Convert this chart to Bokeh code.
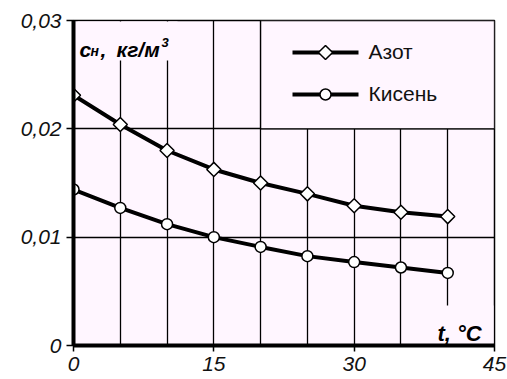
import numpy as np
from bokeh.plotting import figure
from bokeh.models import Range1d, FixedTicker, CustomJSTickFormatter, Label, ColumnDataSource
from bokeh.embed import file_html
from bokeh.resources import INLINE

# ---- data ----
t = [0, 5, 10, 15, 20, 25, 30, 35, 40]
azot = [0.0231, 0.0204, 0.0180, 0.01625, 0.0150, 0.0140, 0.0129, 0.0123, 0.0119]
kysen = [0.0144, 0.0127, 0.0112, 0.0100, 0.0091, 0.00825, 0.0077, 0.0072, 0.0067]
series_names = ["Азот", "Кисень"]
x_ticks = [0, 15, 30, 45]
y_ticks = [0, 0.01, 0.02, 0.03]
x_grid = [5, 10, 15, 20, 25, 30, 35, 40]
y_grid = [0.01, 0.02]

BG = "#FFF6FF"
FONT = "Liberation Sans"
X0, X1, Y0, Y1 = 0, 45, 0, 0.03
FW, FH = 421, 325   # frame size in px

def dx(sx):  # screen px (from frame left) -> data x
    return X0 + sx / FW * (X1 - X0)

def dy(sy):  # screen px (from frame bottom) -> data y
    return Y0 + sy / FH * (Y1 - Y0)

p = figure(width=507, height=379, output_backend="svg", toolbar_location=None,
           x_range=Range1d(X0, X1), y_range=Range1d(Y0, Y1),
           min_border_left=73, min_border_right=13, min_border_top=20, min_border_bottom=34)
p.background_fill_color = BG
p.border_fill_color = "white"
p.outline_line_color = "black"
p.outline_line_width = 1.5

# grid
p.xgrid.ticker = FixedTicker(ticks=x_grid)
p.ygrid.ticker = FixedTicker(ticks=y_grid)
for g in (p.xgrid[0], p.ygrid[0]):
    g.grid_line_color = "black"
    g.grid_line_width = 1.3
    g.grid_line_alpha = 1

# axes
p.xaxis.ticker = FixedTicker(ticks=x_ticks)
p.yaxis.ticker = FixedTicker(ticks=y_ticks)
p.yaxis.formatter = CustomJSTickFormatter(code="return tick == 0 ? '0' : tick.toFixed(2).replace('.', ',');")
for ax in (p.xaxis[0], p.yaxis[0]):
    ax.axis_line_color = "black"
    ax.axis_line_width = 4
    ax.major_tick_line_color = "black"
    ax.major_tick_line_width = 1.5
    ax.major_tick_in = 0
    ax.minor_tick_line_color = None
    ax.major_label_text_font = FONT
    ax.major_label_text_font_style = "italic"
    ax.major_label_text_font_size = "21px"
    ax.major_label_text_color = "#111111"
p.xaxis.major_tick_out = 6
p.xaxis.major_label_standoff = 5
p.yaxis.major_tick_out = 7
p.yaxis.major_label_standoff = 5

# cover boxes (axis-title areas and legend box)
p.quad(left=[dx(4)], right=[dx(104)], bottom=[dy(285)], top=[dy(324)], fill_color=BG, line_color=None)
p.quad(left=[dx(355)], right=[dx(420)], bottom=[dy(2)], top=[dy(40)], fill_color=BG, line_color=None)
p.quad(left=[20], right=[45], bottom=[0.02], top=[0.03], fill_color=BG, line_color="black", line_width=1.3)

# series
src = ColumnDataSource(dict(t=t, azot=azot, kysen=kysen))
LW = 4
p.line("t", "azot", source=src, line_color="black", line_width=LW)
p.scatter("t", "azot", source=src, marker="square", angle=np.pi / 4, size=10,
          fill_color="white", line_color="black", line_width=1.5)
p.line("t", "kysen", source=src, line_color="black", line_width=LW)
p.scatter("t", "kysen", source=src, marker="circle", size=11,
          fill_color="white", line_color="black", line_width=1.5)

# legend (drawn manually so that the diamond keeps its orientation)
leg_x0, leg_x1, leg_xm = 219, 285, 252
leg_rows = [293, 251]
p.segment(x0=[dx(leg_x0)] * 2, x1=[dx(leg_x1)] * 2, y0=[dy(r) for r in leg_rows],
          y1=[dy(r) for r in leg_rows], line_color="black", line_width=LW)
p.scatter([dx(leg_xm)], [dy(leg_rows[0])], marker="square", angle=np.pi / 4, size=10,
          fill_color="white", line_color="black", line_width=1.5)
p.scatter([dx(leg_xm)], [dy(leg_rows[1])], marker="circle", size=11,
          fill_color="white", line_color="black", line_width=1.5)
for name, r in zip(series_names, leg_rows):
    p.add_layout(Label(x=295, y=r + 1, x_units="screen", y_units="screen", text=name,
                       text_font=FONT, text_font_size="21px", text_color="#111111",
                       text_align="left", text_baseline="middle"))

# axis titles
def lab(sx, sy, text, size, align="left"):
    p.add_layout(Label(x=sx, y=sy, x_units="screen", y_units="screen", text=text,
                       text_font=FONT, text_font_style="bold italic", text_font_size=size,
                       text_color="black", text_align=align, text_baseline="alphabetic"))

lab(6, 296, "c", "21px")
lab(17, 295, "н", "14px")
lab(27, 296, ",", "21px")
lab(43, 296, "кг/м", "21px")
lab(88, 303, "3", "13px")
lab(364, 12, "t,  °C", "22px")

open("out.html", "w").write(file_html(p, INLINE))
